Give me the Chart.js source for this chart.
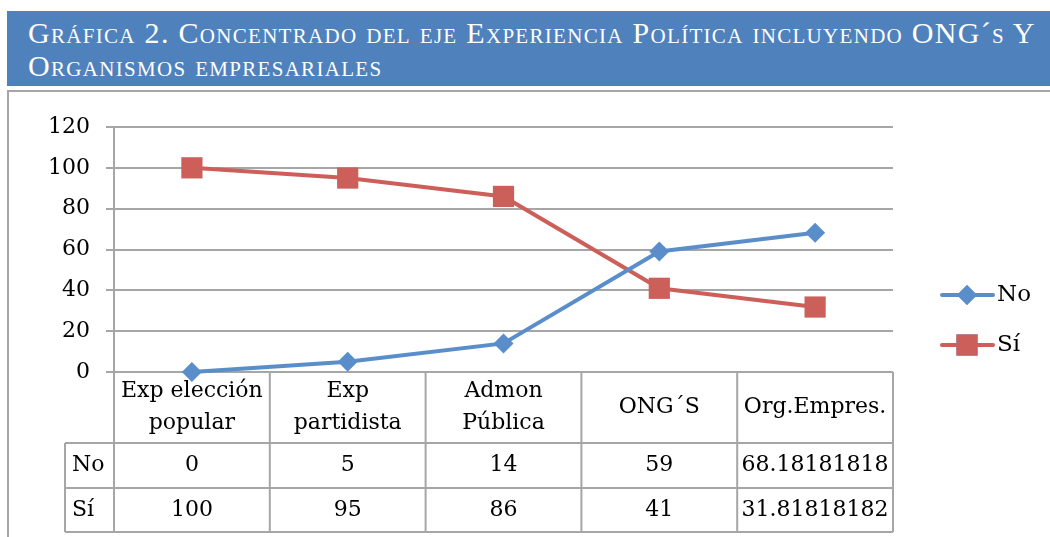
<!DOCTYPE html>
<html>
<head>
<meta charset="utf-8">
<script src="https://cdn.jsdelivr.net/npm/chart.js@4/dist/chart.umd.min.js"></script>
<style>
  body { margin: 0; background: #fff; width: 1050px; height: 537px; overflow: hidden; position: relative; }
  #banner {
    position: absolute; left: 7px; top: 11px; width: 1043px; height: 75px;
    background: #4f81bd; color: #fff;
    font-family: "Liberation Serif", serif; font-size: 30px; font-variant: small-caps;
    letter-spacing: 1.3px; line-height: 33px; box-sizing: border-box; padding: 5px 0 0 21px; white-space: nowrap;
  }
  #frame {
    position: absolute; left: 7px; top: 90px; width: 1060px; height: 460px;
    border: 2px solid #a6a6a6; box-sizing: border-box;
  }
  #wrap { position: absolute; left: 0; top: 92px; }
</style>
</head>
<body>
<div id="banner">Gráfica 2. Concentrado del eje Experiencia Política incluyendo ONG´s Y<br>Organismos empresariales</div>
<div id="frame"></div>
<div id="wrap"><canvas id="chart" width="1050" height="445"></canvas></div>
<script>
const categories = [["Exp elección", "popular"], ["Exp", "partidista"], ["Admon", "Pública"], ["ONG´S"], ["Org.Empres."]];
const noValues = [0, 5, 14, 59, 68.18181818];
const siValues = [100, 95, 86, 41, 31.81818182];
const yTicks = [0, 20, 40, 60, 80, 100, 120];

const FONT = '"DejaVu Serif", serif';
const gridColor = '#a6a6a6';

// data table under the plot, cells follow the x scale
const tablePlugin = {
  id: 'dataTable',
  beforeDatasetsDraw(chart) {
    const ctx = chart.ctx;
    const x = chart.scales.x;
    const area = chart.chartArea;
    const n = chart.data.labels.length;
    let bounds = [area.left];
    for (let i = 1; i < n; i++) {
      bounds.push((x.getPixelForValue(i - 1) + x.getPixelForValue(i)) / 2);
    }
    bounds.push(area.right);

    const top = area.bottom;
    const headBottom = top + 71;
    const row1 = headBottom + 45;
    const row2 = row1 + 44;
    const labelLeft = 65;

    ctx.save();
    ctx.strokeStyle = gridColor;
    ctx.lineWidth = 2;
    ctx.beginPath();
    for (let i = 0; i < bounds.length; i++) {
      ctx.moveTo(bounds[i], top);
      ctx.lineTo(bounds[i], row2);
    }
    ctx.moveTo(labelLeft, headBottom); ctx.lineTo(labelLeft, row2);
    [headBottom, row1, row2].forEach(y => { ctx.moveTo(labelLeft, y); ctx.lineTo(area.right, y); });
    ctx.stroke();

    ctx.fillStyle = '#000';
    ctx.font = '22px ' + FONT;
    ctx.textAlign = 'center';
    ctx.textBaseline = 'middle';
    const mid = (top + headBottom) / 2;
    chart.data.labels.forEach((lab, i) => {
      const cx = x.getPixelForValue(i);
      const lines = Array.isArray(lab) ? lab : [lab];
      lines.forEach((t, k) => {
        ctx.fillText(t, cx, mid + (k - (lines.length - 1) / 2) * 32);
      });
    });
    const rows = [[chart.data.datasets[0], (headBottom + row1) / 2], [chart.data.datasets[1], (row1 + row2) / 2]];
    rows.forEach(([ds, cy]) => {
      ctx.textAlign = 'left';
      ctx.fillText(ds.label, labelLeft + 7, cy);
      ctx.textAlign = 'center';
      ds.data.forEach((v, i) => ctx.fillText(String(v), x.getPixelForValue(i), cy));
    });
    ctx.restore();
  }
};

// legend on the right: line with marker, then name
const legendPlugin = {
  id: 'sideLegend',
  afterDraw(chart) {
    const ctx = chart.ctx;
    const ys = [203, 253];
    chart.data.datasets.forEach((ds, i) => {
      const y = ys[i];
      ctx.save();
      ctx.strokeStyle = ds.borderColor;
      ctx.lineWidth = 4;
      ctx.lineCap = 'round';
      ctx.beginPath();
      ctx.moveTo(942, y); ctx.lineTo(993, y);
      ctx.stroke();
      Chart.helpers.drawPoint(ctx, {pointStyle: ds.pointStyle, radius: ds.pointRadius, borderWidth: 0}, 967, y);
      ctx.fillStyle = ds.backgroundColor;
      ctx.fill();
      ctx.fillStyle = '#000';
      ctx.font = '23px ' + FONT;
      ctx.textAlign = 'left';
      ctx.textBaseline = 'middle';
      ctx.fillText(ds.label, 997, y);
      ctx.restore();
    });
  }
};

new Chart(document.getElementById('chart'), {
  type: 'line',
  data: {
    labels: categories,
    datasets: [
      {
        label: 'No', data: noValues,
        borderColor: '#5a8ecb', backgroundColor: '#5a8ecb',
        borderWidth: 4, pointStyle: 'rectRot', pointRadius: 10, pointBorderWidth: 0,
        tension: 0, clip: false
      },
      {
        label: 'Sí', data: siValues,
        borderColor: '#cd5f5a', backgroundColor: '#cd5f5a',
        borderWidth: 4, pointStyle: 'rect', pointRadius: 15, pointBorderWidth: 0,
        tension: 0, clip: false
      }
    ]
  },
  options: {
    responsive: false,
    animation: false,
    layout: { padding: { top: 35, right: 157, left: 0, bottom: 0 } },
    plugins: { legend: { display: false }, tooltip: { enabled: false } },
    scales: {
      x: {
        offset: true,
        grid: { display: false },
        border: { display: false },
        ticks: { display: false },
        afterFit(s) { s.height = 165; }
      },
      y: {
        min: 0, max: 120,
        afterBuildTicks(s) { s.ticks = yTicks.map(v => ({ value: v })); },
        ticks: { color: '#000', font: { family: FONT, size: 22 }, padding: 16 },
        grid: { color: gridColor, lineWidth: 2, tickLength: 8 },
        border: { color: gridColor, width: 2 },
        afterFit(s) { s.width = 114; }
      }
    }
  },
  plugins: [tablePlugin, legendPlugin]
});
</script>
</body>
</html>
